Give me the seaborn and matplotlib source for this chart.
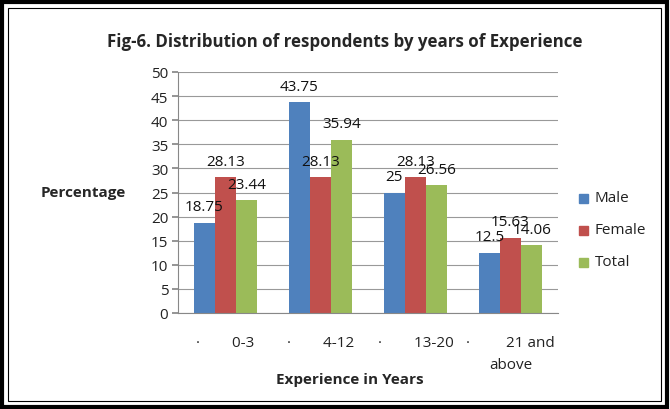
import matplotlib
matplotlib.use("Agg")
import matplotlib.pyplot as plt
import seaborn as sns
import pandas as pd
from matplotlib.patches import Rectangle

categories = ["0-3", "4-12", "13-20", "21 and above"]
tick_labels = ["·        0-3", "·        4-12", "·        13-20", "·         21 and\nabove"]
male = [18.75, 43.75, 25, 12.5]
female = [28.13, 28.13, 28.13, 15.63]
total = [23.44, 35.94, 26.56, 14.06]
series = ["Male", "Female", "Total"]
colors = ["#4F81BD", "#C0504D", "#9BBB59"]

rows = []
for name, vals in zip(series, [male, female, total]):
    for c, v in zip(categories, vals):
        rows.append({"cat": c, "series": name, "value": v})
df = pd.DataFrame(rows)

sns.set_theme(style="white")
plt.rcParams["font.family"] = ["Open Sans", "DejaVu Sans"]

fig = plt.figure(figsize=(6.7, 4.1), dpi=100)
ax = fig.add_axes([178/670, 1-314/410, 380/670, 241/410])

sns.barplot(data=df, x="cat", y="value", hue="series", order=categories,
            hue_order=series, palette=colors, width=0.667, gap=0,
            saturation=1, ax=ax, legend=False, linewidth=0)

ax.set_ylim(0, 50)
ax.set_xlim(-0.5, 3.5)
ax.set_yticks(range(0, 51, 5))
ax.set_yticklabels([str(v) for v in range(0, 51, 5)], fontsize=11, color="#222222")
ax.set_xticks(range(4))
ax.set_xticklabels(tick_labels, fontsize=11, color="#222222", linespacing=1.6)
ax.tick_params(axis="x", which="major", length=0, pad=16)
ax.set_xticks([-0.5, 0.5, 1.5, 2.5, 3.5], minor=True)
ax.tick_params(axis="x", which="minor", length=5, color="#888888", direction="out")
ax.tick_params(axis="y", length=4, color="#888888", direction="out", left=True, pad=3)
ax.yaxis.grid(True, color="#999999", linewidth=0.8)
ax.set_axisbelow(True)
for s in ["top", "right"]:
    ax.spines[s].set_visible(False)
for s in ["left", "bottom"]:
    ax.spines[s].set_color("#888888")
    ax.spines[s].set_linewidth(0.8)
ax.set_xlabel("")
ax.set_ylabel("")

for cont in ax.containers:
    for bar in cont:
        h = bar.get_height()
        ax.annotate(f"{h:g}", (bar.get_x() + bar.get_width()/2, h),
                    xytext=(0, 6), textcoords="offset points",
                    ha="center", va="bottom", fontsize=11, color="#111111")

fig.text(345/670, 1-42/410, "Fig-6. Distribution of respondents by years of Experience",
         ha="center", va="center", fontsize=12.2, fontweight="bold")
fig.text(83/670, 1-193/410, "Percentage", ha="center", va="center",
         fontsize=11, fontweight="bold")
fig.text(350/670, 1-380/410, "Experience in Years", ha="center", va="center",
         fontsize=11, fontweight="bold")

for i, (name, col) in enumerate(zip(series, colors)):
    y = 1 - (199 + 32*i)/410
    fig.patches.append(Rectangle((579/670, y - 4.5/410), 9/670, 9/410,
                                 transform=fig.transFigure, color=col))
    fig.text(595/670, y, name, ha="left", va="center", fontsize=11, color="#222222")

fig.patches.append(Rectangle((2/670, 2/410), 665/670, 405/410, transform=fig.transFigure,
                             fill=False, edgecolor="black", linewidth=3))
fig.patches.append(Rectangle((8/670, 8/410), 653/670, 393/410, transform=fig.transFigure,
                             fill=False, edgecolor="black", linewidth=0.8))

fig.savefig("out.png", dpi=100)
